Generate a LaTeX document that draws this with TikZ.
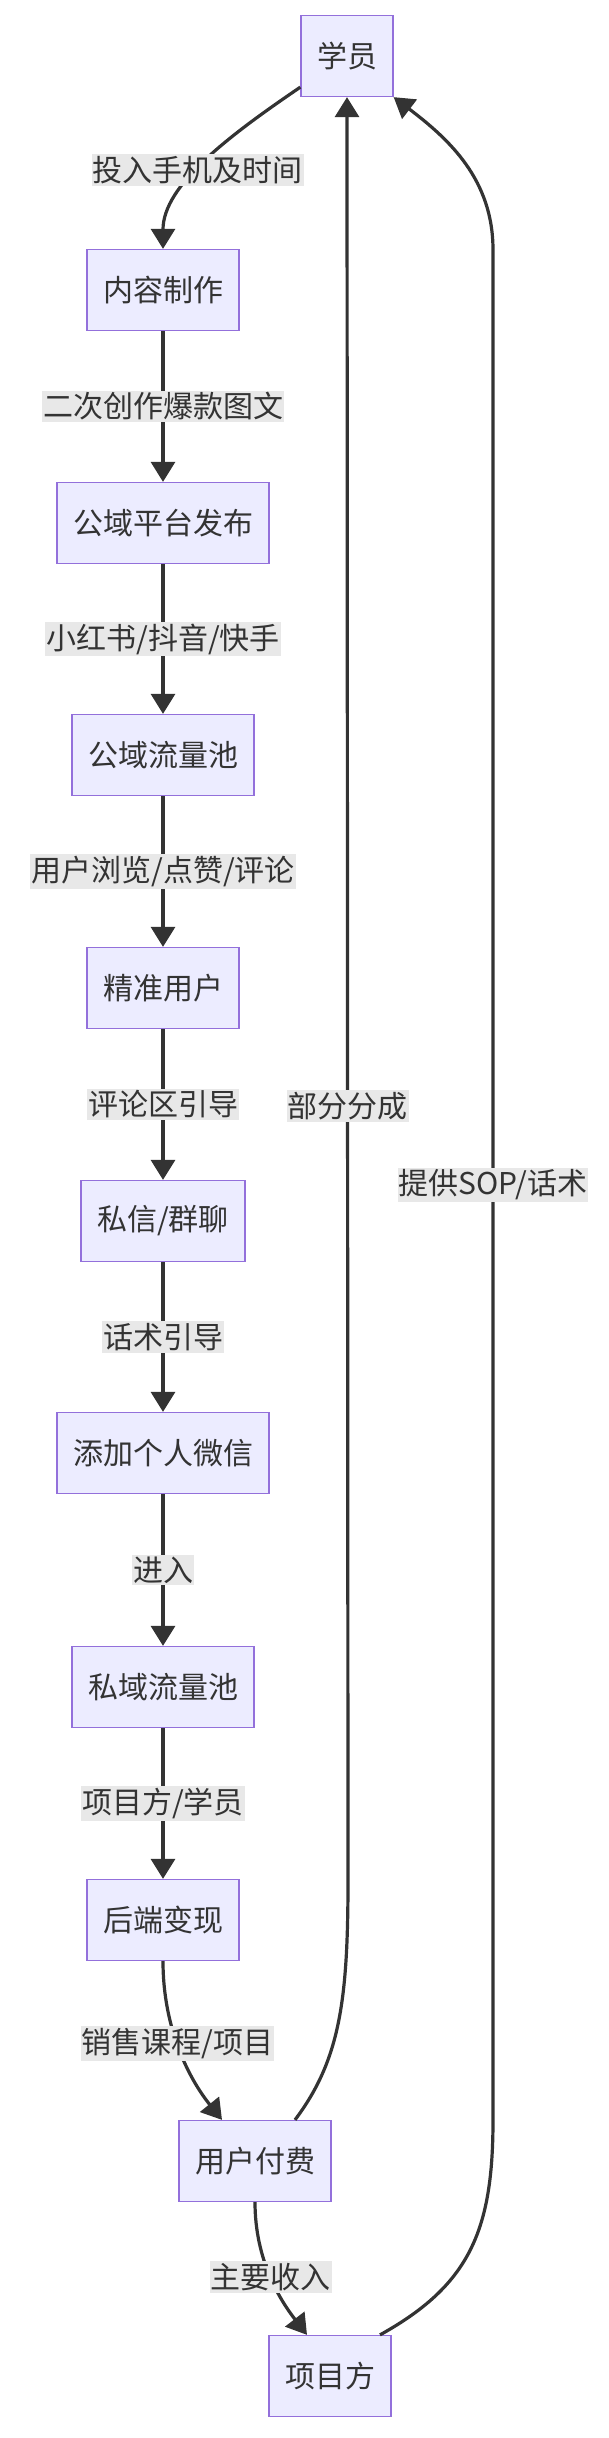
\documentclass[tikz,border=0pt]{standalone}
\usepackage{fontspec}
\setmainfont{Noto Sans CJK SC}
\usetikzlibrary{arrows.meta,positioning,calc}
\definecolor{boxfill}{HTML}{ECECFF}
\definecolor{boxline}{HTML}{9370DB}
\definecolor{ink}{HTML}{333333}
\definecolor{lblbg}{HTML}{E8E8E8}
\tikzset{
  box/.style={draw=boxline, fill=boxfill, line width=1.3pt, text=ink,
    minimum height=81pt, inner xsep=16pt, font=\fontsize{30}{36}\selectfont},
  lbl/.style={fill=lblbg, text=ink, inner xsep=1pt, inner ysep=2pt,
    font=\fontsize{30}{36}\selectfont},
  arr/.style={draw=ink, line width=3.2pt, -{Triangle[length=20pt,width=24pt]}},
}
\begin{document}
\begin{tikzpicture}[x=1pt,y=-1pt]
    \useasboundingbox (0,0) rectangle (608,2438);
    % kotak-kotak alur
    \node[box] (xy)   at (347,56)   {学员};
    \node[box] (nrzz) at (163,290)  {内容制作};
    \node[box] (gyfb) at (163,523)  {公域平台发布};
    \node[box] (gyll) at (163,755)  {公域流量池};
    \node[box] (jzyh) at (163,988)  {精准用户};
    \node[box] (sxql) at (163,1221) {私信/群聊};
    \node[box] (tjwx) at (163,1453) {添加个人微信};
    \node[box] (syll) at (163,1687) {私域流量池};
    \node[box] (hdbx) at (163,1920) {后端变现};
    \node[box] (yhff) at (255,2161) {用户付费};
    \node[box] (xmf)  at (330,2376) {项目方};

    % alur utama
    \draw[arr] ([yshift=10pt]xy.south west) .. controls (230,135) and (163,185) .. node[lbl, pos=0.55]{投入手机及时间} (nrzz.north);
    \draw[arr] (nrzz) -- node[lbl]{二次创作爆款图文} (gyfb);
    \draw[arr] (gyfb) -- node[lbl]{小红书/抖音/快手} (gyll);
    \draw[arr] (gyll) -- node[lbl]{用户浏览/点赞/评论} (jzyh);
    \draw[arr] (jzyh) -- node[lbl]{评论区引导} (sxql);
    \draw[arr] (sxql) -- node[lbl]{话术引导} (tjwx);
    \draw[arr] (tjwx) -- node[lbl]{进入} (syll);
    \draw[arr] (syll) -- node[lbl]{项目方/学员} (hdbx);
    \draw[arr] (hdbx.south) .. controls (163,2030) and (190,2080) .. node[lbl, pos=0.45]{销售课程/项目} ([xshift=-33pt]yhff.north);
    \draw[arr] (yhff.south) .. controls (255,2260) and (280,2300) .. node[lbl, pos=0.5]{主要收入} ([xshift=-23pt]xmf.north);

    % alur balik
    \draw[arr] ([xshift=40pt]yhff.north) .. controls (340,2060) and (348,2000) .. (348,1880) -- node[lbl, pos=0.434]{部分分成} (xy.south);
    \draw[arr] ([xshift=50pt]xmf.north) .. controls (470,2285) and (493,2230) .. (493,2120) -- node[lbl]{提供SOP/话术} (493,250) .. controls (493,180) and (450,140) .. (xy.south east);
\end{tikzpicture}
\end{document}
